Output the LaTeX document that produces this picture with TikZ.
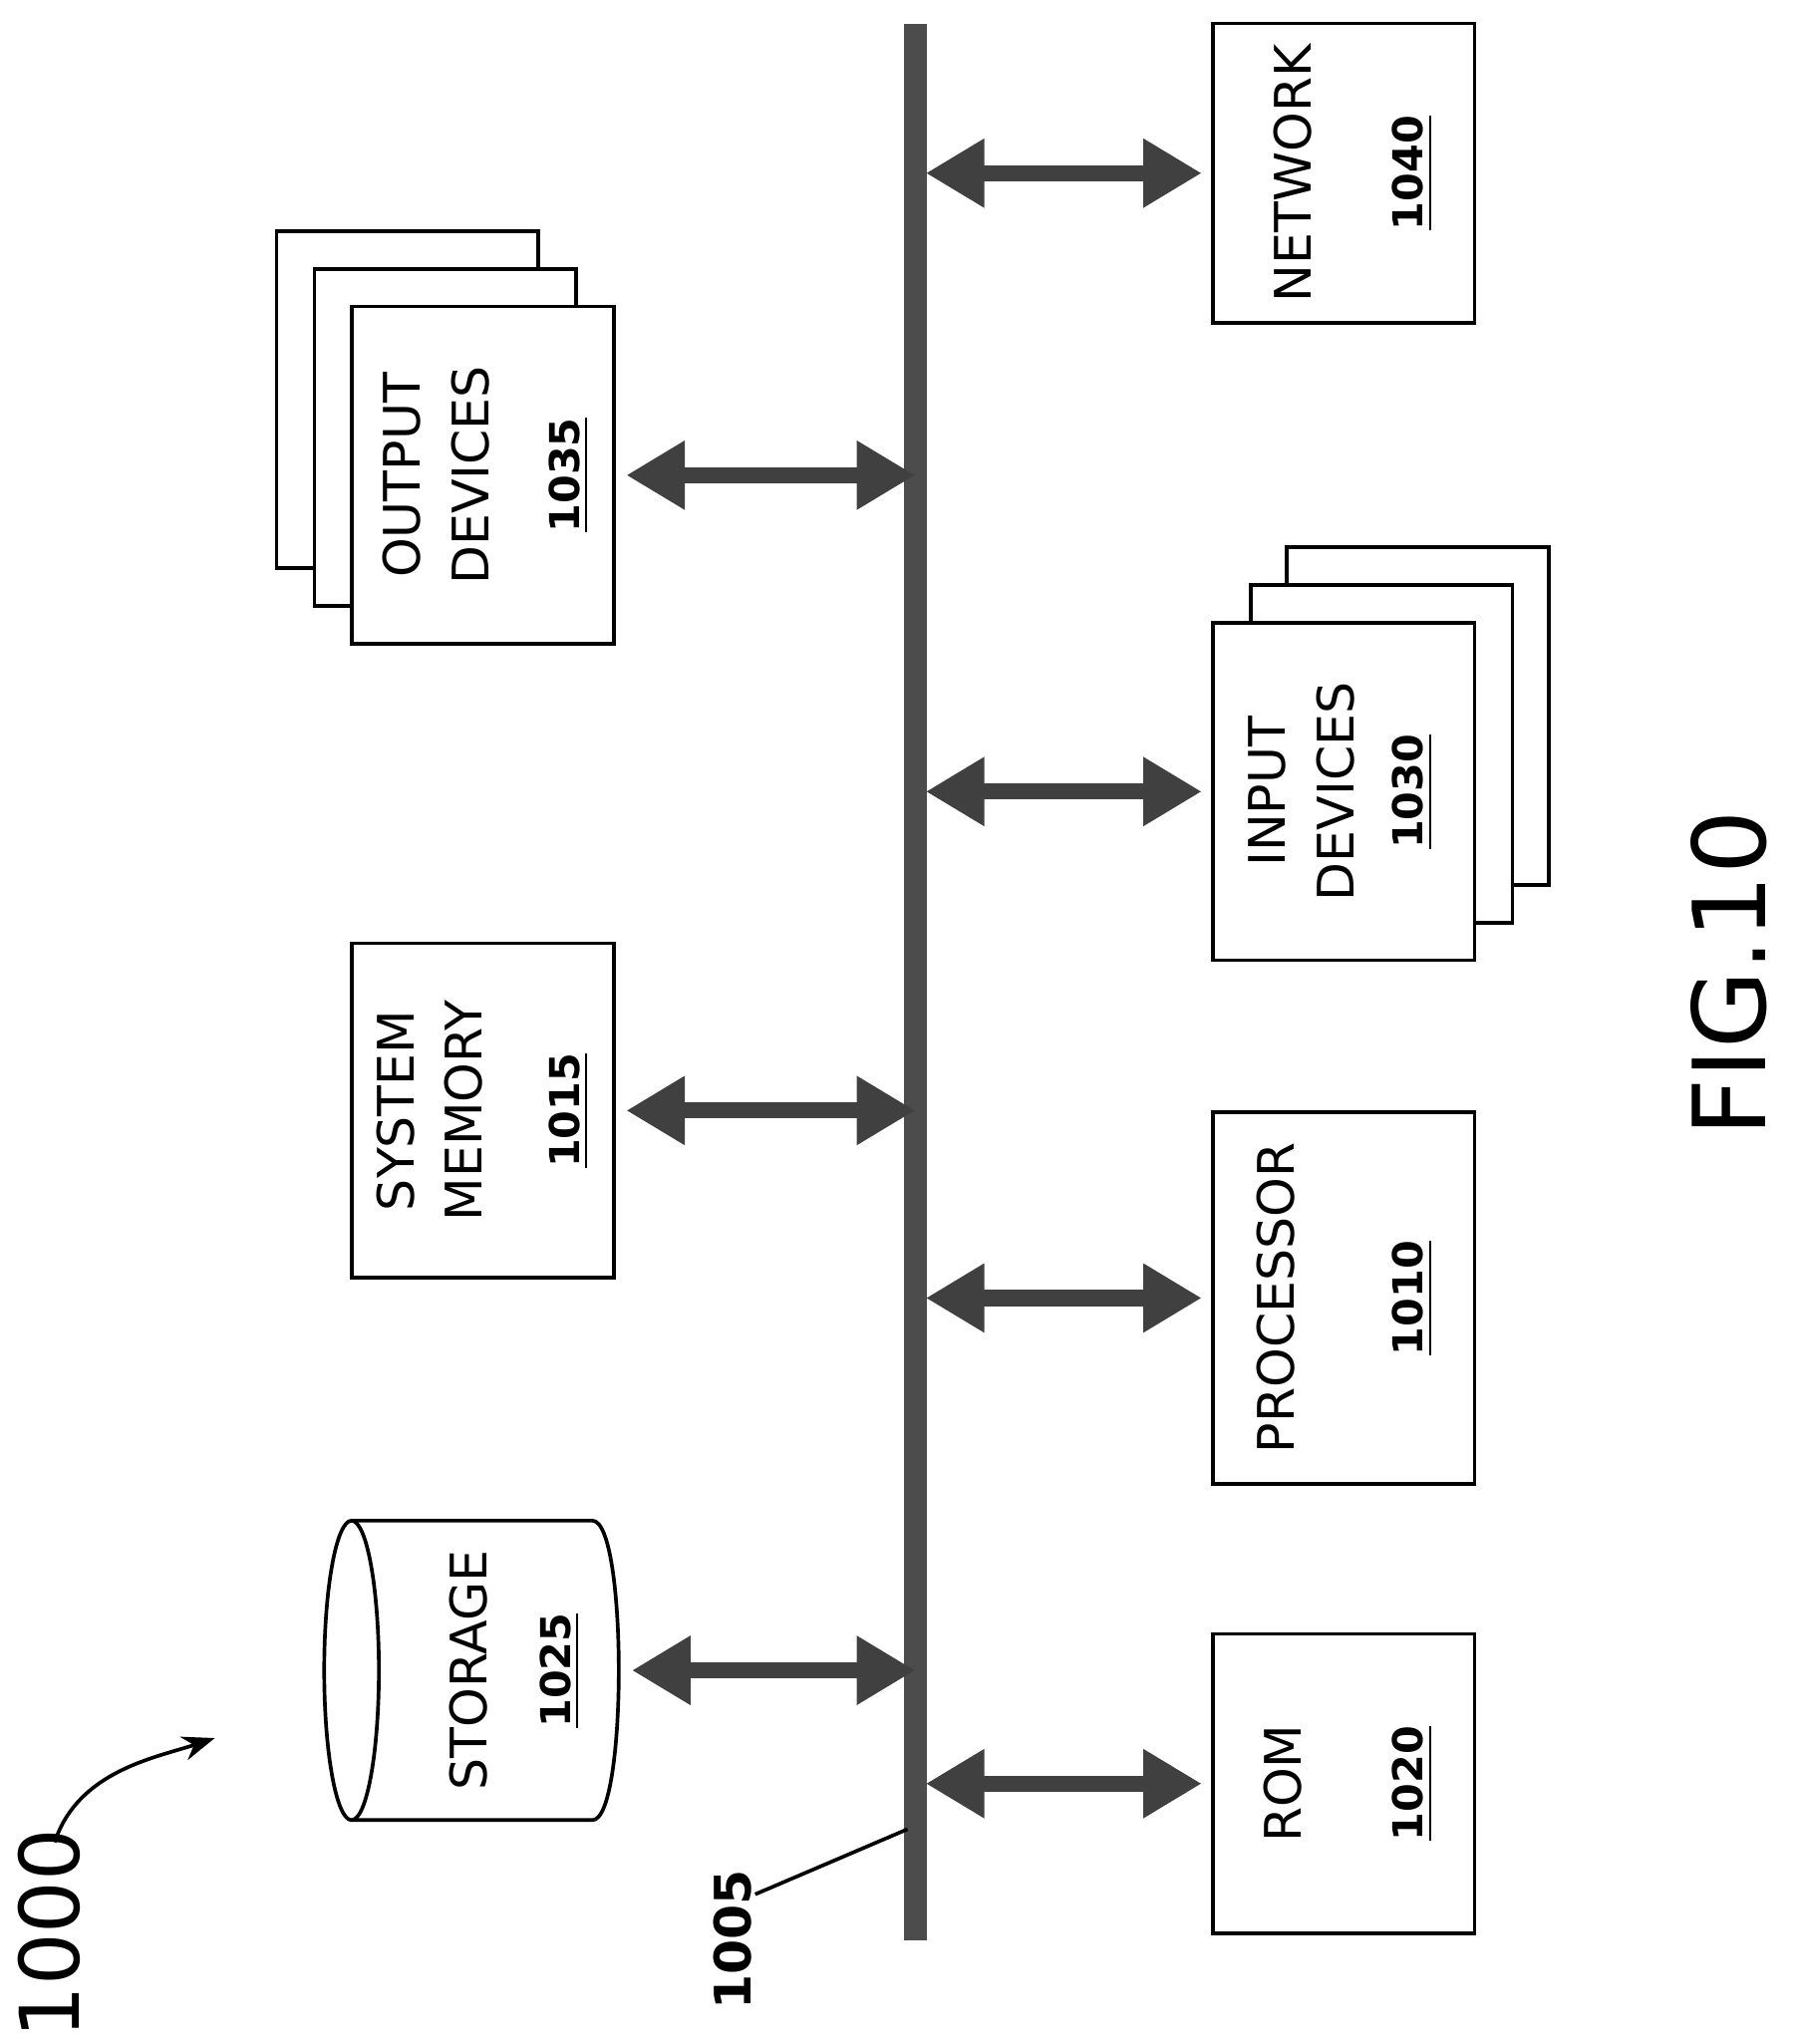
\documentclass[tikz,border=0pt]{standalone}
\usepackage{fontspec}
\setmainfont{DejaVu Sans}
\usetikzlibrary{arrows.meta, positioning}
\begin{document}
\begin{tikzpicture}[x=0.01cm,y=-0.01cm,
    box/.style={draw, thick, fill=white, inner sep=0pt},
    lbl/.style={rotate=90, align=center, font=\fontsize{11}{15}\selectfont},
    num/.style={rotate=90, font=\bfseries\fontsize{9}{11}\selectfont},
    link/.style={{Triangle[length=0.45cm,width=0.5cm]}-{Triangle[length=0.45cm,width=0.5cm]}, line width=3.5pt, draw=black!75}]
    \useasboundingbox (0,0) rectangle (1380,1570);
    % bus
    \draw[line width=5pt, draw=black!70] (703,18) coordinate (bustop) -- (703,1490) coordinate (busbot);
    % right column
    \node [box, minimum width=2.01cm, minimum height=2.3cm] (network) at (1032,133) {};
    \node [lbl] at (993,133) {NETWORK};
    \node [num] at (1085,133) {\underline{1040}};
    \node [box, minimum width=2.01cm, minimum height=2.59cm] (inb) at (1089,550) {};
    \node [box, minimum width=2.01cm, minimum height=2.59cm] (inm) at (1061,579) {};
    \node [box, minimum width=2.01cm, minimum height=2.59cm] (input) at (1032,608) {};
    \node [lbl] at (1000,608) {INPUT\\DEVICES};
    \node [num] at (1085,608) {\underline{1030}};
    \node [box, minimum width=2.01cm, minimum height=2.85cm] (processor) at (1032,997) {};
    \node [lbl] at (980,997) {PROCESSOR};
    \node [num] at (1085,997) {\underline{1010}};
    \node [box, minimum width=2.01cm, minimum height=2.3cm] (rom) at (1032,1370) {};
    \node [lbl] at (985,1370) {ROM};
    \node [num] at (1085,1370) {\underline{1020}};
    % left column
    \node [box, minimum width=2.01cm, minimum height=2.59cm] (outb) at (313,307) {};
    \node [box, minimum width=2.01cm, minimum height=2.59cm] (outm) at (342,336) {};
    \node [box, minimum width=2.01cm, minimum height=2.59cm] (output) at (371,365) {};
    \node [lbl] at (335,365) {OUTPUT\\DEVICES};
    \node [num] at (437,365) {\underline{1035}};
    \node [box, minimum width=2.01cm, minimum height=2.57cm] (memory) at (371,853) {};
    \node [lbl] at (330,853) {SYSTEM\\MEMORY};
    \node [num] at (437,853) {\underline{1015}};
    % storage
    \draw[thick] (270,1168) -- (455,1168) .. controls (482,1168) and (482,1398) .. (455,1398) -- (270,1398);
    \draw[thick] (270,1283) ellipse[x radius=21, y radius=115];
    \node [minimum width=2.05cm, minimum height=2.3cm, inner sep=0pt] (storage) at (372,1283) {};
    \node [lbl] at (360,1283) {STORAGE};
    \node [num] at (430,1283) {\underline{1025}};
    % links
    \foreach \n in {network, input, processor, rom}
        \draw[link] (\n.west -| bustop) ++(8,0) -- ([xshift=-0.07cm]\n.west);
    \draw[link] ([xshift=0.08cm]output.east) -- (output.east -| bustop);
    \draw[link] ([xshift=0.08cm]memory.east) -- (memory.east -| bustop);
    \draw[link] ([xshift=0.1cm]storage.east) -- (storage.east -| bustop);
    % reference labels
    \node [num, font=\bfseries\fontsize{11}{13}\selectfont] (busno) at (563,1490) {1005};
    \draw[thick] (580,1455) -- (697,1405);
    \node [rotate=90, font=\fontsize{18}{22}\selectfont] (sysno) at (38,1485) {1000};
    \draw[thick, -{Stealth[length=0.25cm]}] (42,1415) .. controls (60,1360) and (120,1350) .. (165,1335);
    \node [rotate=90, font=\fontsize{22}{26}\selectfont] (fig) at (1328,748) {FIG.10};
\end{tikzpicture}
\end{document}
